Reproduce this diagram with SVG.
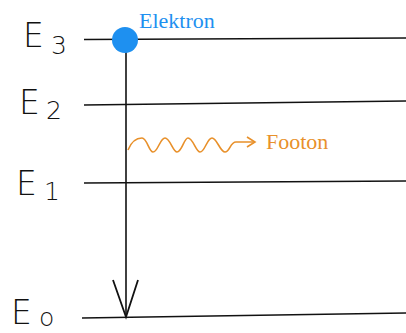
<svg xmlns="http://www.w3.org/2000/svg" width="406" height="333" viewBox="0 0 406 333">
<style>
.lvl{stroke:#111;stroke-width:1.6;fill:none}
.lab{font-family:"DejaVu Sans",sans-serif;fill:#111;font-weight:200;font-size:33px}
.sub{font-family:"DejaVu Sans",sans-serif;fill:#111;font-weight:200;font-size:25px}
.ser{font-family:"Liberation Serif",serif;font-size:22px}
</style>
<rect width="406" height="333" fill="#fff"/>
<g id="levels">
<g id="E3"><line class="lvl" x1="84" y1="39.5" x2="406" y2="38"/><text class="lab" x="23" y="47">E</text><text class="sub" x="51" y="54">3</text></g>
<g id="E2"><line class="lvl" x1="84" y1="105" x2="406" y2="101"/><text class="lab" x="19" y="114">E</text><text class="sub" x="46" y="119">2</text></g>
<g id="E1"><line class="lvl" x1="84" y1="183" x2="406" y2="181"/><text class="lab" x="16" y="195">E</text><text class="sub" x="44" y="200">1</text></g>
<g id="E0"><line class="lvl" x1="82" y1="318" x2="406" y2="313"/><text class="lab" x="11" y="324">E</text><text class="sub" x="39" y="326" font-size="26">o</text></g>
</g>
<g id="connectors">
<line x1="126" y1="40" x2="126" y2="317" stroke="#111" stroke-width="1.6"/>
<polyline points="113,280 126,317 138,280" fill="none" stroke="#111" stroke-width="1.8"/>
<path d="M128,150 C132,140 137,138 142,138 C147,138 149,152 153,152 C158,152 160,138 165,138 C170,138 173,152 177,152 C182,152 184,138 188,138 C193,138 196,152 200,152 C205,152 207,138 212,138 C217,138 220,152 225,152 C230,152 230,142 236,142 L255,142" fill="none" stroke="#e8902a" stroke-width="1.6"/>
<polyline points="247,137 255,142 247,147" fill="none" stroke="#e8902a" stroke-width="1.6"/>
</g>
<g id="electron">
<circle cx="125" cy="40" r="13" fill="#1e90f0"/>
<text class="ser" x="139" y="28" fill="#1e90f0">Elektron</text>
</g>
<g id="photon">
<text class="ser" x="266" y="149" fill="#e8902a">Footon</text>
</g>
</svg>
